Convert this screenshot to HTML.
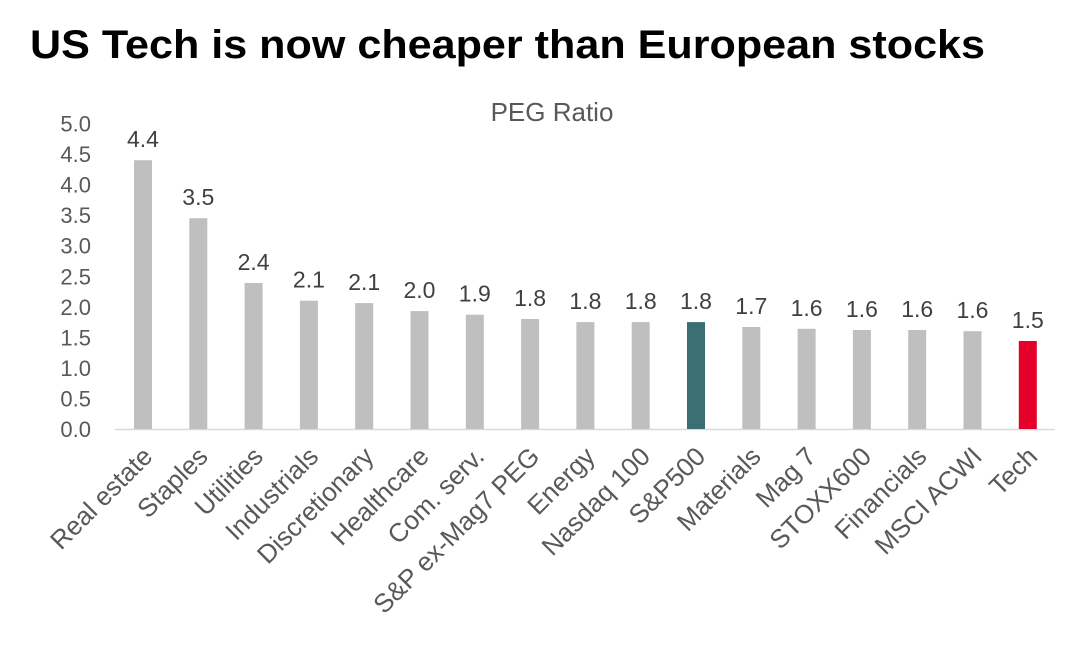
<!DOCTYPE html>
<html><head><meta charset="utf-8"><style>
html,body{margin:0;padding:0;background:#fff;}
svg{display:block;}
</style></head><body>
<svg width="1079" height="658" viewBox="0 0 1079 658" xmlns="http://www.w3.org/2000/svg">
<rect width="1079" height="658" fill="#fff"/>
<text x="30" y="58" font-family="Liberation Sans, sans-serif" font-weight="bold" font-size="40" textLength="955" lengthAdjust="spacingAndGlyphs" fill="#000">US Tech is now cheaper than European stocks</text>
<text x="552" y="121" text-anchor="middle" font-family="Liberation Sans, sans-serif" font-size="26" fill="#595959">PEG Ratio</text>
<g font-family="Liberation Sans, sans-serif" font-size="22" fill="#595959" text-anchor="end">
<text x="91" y="437">0.0</text>
<text x="91" y="406.5">0.5</text>
<text x="91" y="375.9">1.0</text>
<text x="91" y="345.4">1.5</text>
<text x="91" y="314.8">2.0</text>
<text x="91" y="284.3">2.5</text>
<text x="91" y="253.7">3.0</text>
<text x="91" y="223.2">3.5</text>
<text x="91" y="192.6">4.0</text>
<text x="91" y="162.1">4.5</text>
<text x="91" y="131.5">5.0</text>
</g>
<line x1="115" y1="429.5" x2="1055" y2="429.5" stroke="#d9d9d9" stroke-width="1.5"/>
<g fill="#bfbfbf">
<rect x="134" y="160.2" width="18" height="268.8"/>
<rect x="189.3" y="218.2" width="18" height="210.8"/>
<rect x="244.6" y="283" width="18" height="146"/>
<rect x="299.9" y="300.7" width="18" height="128.3"/>
<rect x="355.2" y="303.1" width="18" height="125.9"/>
<rect x="410.5" y="311.1" width="18" height="117.9"/>
<rect x="465.8" y="314.7" width="18" height="114.3"/>
<rect x="521.1" y="319" width="18" height="110"/>
<rect x="576.4" y="322.1" width="18" height="106.9"/>
<rect x="631.7" y="322.1" width="18" height="106.9"/>
<rect x="687" y="322.1" width="18" height="106.9" fill="#3c6e76"/>
<rect x="742.3" y="327" width="18" height="102"/>
<rect x="797.6" y="328.8" width="18" height="100.2"/>
<rect x="852.9" y="330" width="18" height="99"/>
<rect x="908.2" y="330" width="18" height="99"/>
<rect x="963.5" y="331.2" width="18" height="97.8"/>
<rect x="1018.8" y="341" width="18" height="88" fill="#e4002b"/>
</g>
<g font-family="Liberation Sans, sans-serif" font-size="23" fill="#404040" text-anchor="middle">
<text x="143" y="147.2">4.4</text>
<text x="198.3" y="205.2">3.5</text>
<text x="253.6" y="270">2.4</text>
<text x="308.9" y="287.7">2.1</text>
<text x="364.2" y="290.1">2.1</text>
<text x="419.5" y="298.1">2.0</text>
<text x="474.8" y="301.7">1.9</text>
<text x="530.1" y="306">1.8</text>
<text x="585.4" y="309.1">1.8</text>
<text x="640.7" y="309.1">1.8</text>
<text x="696" y="309.1">1.8</text>
<text x="751.3" y="314">1.7</text>
<text x="806.6" y="315.8">1.6</text>
<text x="861.9" y="317">1.6</text>
<text x="917.2" y="317">1.6</text>
<text x="972.5" y="318.2">1.6</text>
<text x="1027.8" y="328">1.5</text>
</g>
<g font-family="Liberation Sans, sans-serif" font-size="26" fill="#595959" text-anchor="end">
<text x="154" y="458" transform="rotate(-45 154 458)">Real estate</text>
<text x="209.3" y="458" transform="rotate(-45 209.3 458)">Staples</text>
<text x="264.6" y="458" transform="rotate(-45 264.6 458)">Utilities</text>
<text x="319.9" y="458" transform="rotate(-45 319.9 458)">Industrials</text>
<text x="375.2" y="458" transform="rotate(-45 375.2 458)">Discretionary</text>
<text x="430.5" y="458" transform="rotate(-45 430.5 458)">Healthcare</text>
<text x="485.8" y="458" transform="rotate(-45 485.8 458)">Com. serv.</text>
<text x="541.1" y="458" transform="rotate(-45 541.1 458)">S&amp;P ex-Mag7 PEG</text>
<text x="596.4" y="458" transform="rotate(-45 596.4 458)">Energy</text>
<text x="651.7" y="458" transform="rotate(-45 651.7 458)">Nasdaq 100</text>
<text x="707" y="458" transform="rotate(-45 707 458)">S&amp;P500</text>
<text x="762.3" y="458" transform="rotate(-45 762.3 458)">Materials</text>
<text x="817.6" y="458" transform="rotate(-45 817.6 458)">Mag 7</text>
<text x="872.9" y="458" transform="rotate(-45 872.9 458)">STOXX600</text>
<text x="928.2" y="458" transform="rotate(-45 928.2 458)">Financials</text>
<text x="983.5" y="458" transform="rotate(-45 983.5 458)">MSCI ACWI</text>
<text x="1038.8" y="458" transform="rotate(-45 1038.8 458)">Tech</text>
</g>
</svg>
</body></html>
